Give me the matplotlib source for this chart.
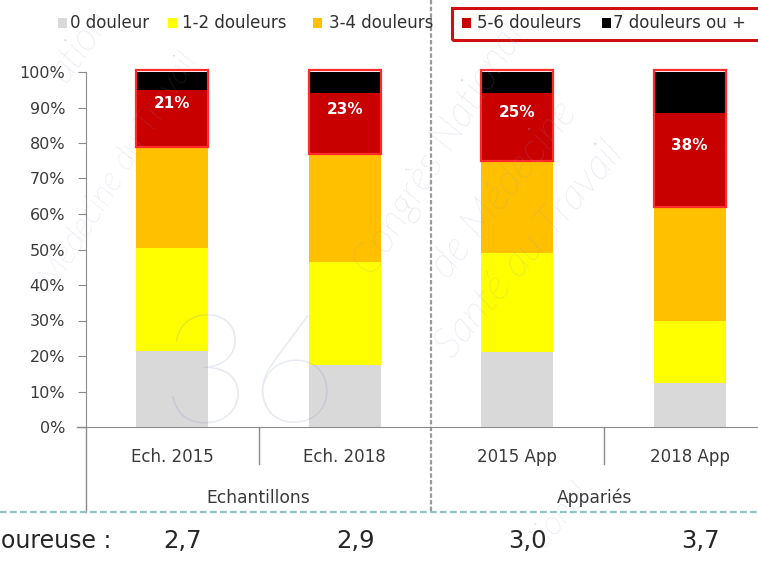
import numpy as np
import matplotlib
matplotlib.use("Agg")
import matplotlib.pyplot as plt
from matplotlib.patches import Rectangle
from matplotlib.lines import Line2D
import matplotlib.transforms as mtransforms

plt.rcParams['font.family'] = ['DejaVu Sans']

# data (percent of each group)
categories = ["Ech. 2015", "Ech. 2018", "2015 App", "2018 App"]
groups = ["Echantillons", "Appariés"]
series_names = ["0 douleur", "1-2 douleurs", "3-4 douleurs", "5-6 douleurs", "7 douleurs ou +"]
pct_0 = [21.5, 17.5, 21.0, 12.5]
pct_12 = [29.0, 29.0, 28.0, 17.5]
pct_34 = [28.5, 30.5, 26.0, 32.0]
pct_56 = [16.0, 17.0, 19.0, 26.5]
pct_7 = [5.0, 6.0, 6.0, 11.5]
top_labels = ["21%", "23%", "25%", "38%"]
mean_scores = ["2,7", "2,9", "3,0", "3,7"]
colors = ["#d9d9d9", "#ffff00", "#ffc000", "#c80000", "#000000"]

W, H = 758, 563
fig = plt.figure(figsize=(W / 100, H / 100), dpi=100)
ax = fig.add_axes([86 / W, 1 - 427 / H, 4 * 172.5 / W, 355 / H])

x = np.arange(len(categories))
series = [pct_0, pct_12, pct_34, pct_56, pct_7]
bottom = np.zeros(len(categories))
for vals, col, name in zip(series, colors, series_names):
    ax.bar(x, vals, 0.42, bottom=bottom, color=col, label=name, zorder=2)
    bottom += np.array(vals)

# red highlight around the 5+ part + labels
for i in range(len(categories)):
    base = pct_0[i] + pct_12[i] + pct_34[i]
    ax.add_patch(Rectangle((x[i] - 0.21, base), 0.42, 100 - base + 0.6, fill=False,
                           edgecolor="#ff2a2a", lw=1.6, zorder=3, clip_on=False))
    ax.text(x[i], base + pct_56[i] / 2 + 4, top_labels[i], ha="center", va="center",
            color="white", fontsize=11, fontweight="bold", zorder=4)

ax.set_xlim(-0.5, 3.5)
ax.set_ylim(0, 100)
ax.set_yticks(np.arange(0, 101, 10))
ax.set_yticklabels([f"{v}%" for v in range(0, 101, 10)], fontsize=11.5, color="#3a3a3a")
ax.set_xticks([])
for s in ["top", "right"]:
    ax.spines[s].set_visible(False)
ax.spines["left"].set_color("#8c8c8c")
ax.spines["bottom"].set_color("#8c8c8c")
ax.tick_params(axis="y", length=6, color="#8c8c8c", pad=9)

trans = mtransforms.blended_transform_factory(ax.transData, ax.transAxes)
# category structure lines under the axis
ax.plot([-0.5, -0.5], [0, -0.239], transform=trans, clip_on=False, color="#8c8c8c", lw=1)
for xv in [0.5, 2.5]:
    ax.plot([xv, xv], [0, -0.105], transform=trans, clip_on=False, color="#8c8c8c", lw=1)
ax.plot([1.5, 1.5], [1.203, -0.239], transform=trans, clip_on=False, color="#9a9a9a",
        lw=1.6, ls=(0, (2, 1)))
ax.plot([-0.55, -0.5], [0, 0], transform=trans, clip_on=False, color="#8c8c8c", lw=1)

for i, c in enumerate(categories):
    ax.text(x[i], -0.085, c, transform=trans, ha="center", va="center", fontsize=12,
            color="#3a3a3a")
ax.text(0.5, -0.2, groups[0], transform=trans, ha="center", va="center", fontsize=12.3,
        color="#3a3a3a")
ax.text(2.45, -0.2, groups[1], transform=trans, ha="center", va="center", fontsize=12.3,
        color="#3a3a3a")

# bottom row: mean score
fig.add_artist(Line2D([0, 1], [1 - 512 / H] * 2, color="#8fc4c0", lw=1.6, ls=(0, (3, 1.5))))
fig.text(1 / W, 1 - 541 / H, "oureuse :", ha="left", va="center", fontsize=17, color="#262626")
for i, m in enumerate(mean_scores):
    ax.text(x[i] + 0.06, -0.321, m, transform=trans, ha="center", va="center", fontsize=17.5,
            color="#262626")

# legend, laid out like the original (patch x, text x in pixels)
leg_patch_x = [58, 168, 313, 462, 602]
leg_text_x = [70, 182, 329, 477, 613]
leg_y = 23
for px, tx, col, name in zip(leg_patch_x, leg_text_x, colors, series_names):
    fig.add_artist(Rectangle((px / W, 1 - (leg_y + 5) / H), 9 / W, 10 / H,
                             transform=fig.transFigure, color=col, lw=0))
    fig.text(tx / W, 1 - leg_y / H, name, ha="left", va="center", fontsize=12,
             color="#303030")
fig.add_artist(Rectangle((452 / W, 1 - 40 / H), 320 / W, 32 / H, transform=fig.transFigure,
                         fill=False, edgecolor="#d01010", lw=2.2))

# watermark
wm = dict(color="#8f9cc4", alpha=0.38, fontstyle="italic", zorder=5, family="Lato",
          fontweight="light")
fig.text(440 / W, 1 - 150 / H, "Congrès National", rotation=58, ha="center", va="center",
         fontsize=30, **wm)
fig.text(505 / W, 1 - 190 / H, "de Médecine", rotation=52, ha="center", va="center",
         fontsize=30, **wm)
fig.text(530 / W, 1 - 250 / H, "Santé au Travail", rotation=50, ha="center", va="center",
         fontsize=30, **wm)
fig.text(80 / W, 1 - 45 / H, "ation", rotation=55, ha="center", va="center", fontsize=28, **wm)
fig.text(120 / W, 1 - 170 / H, "Médecine du Travail", rotation=58, ha="center", va="center",
         fontsize=24, **wm)
fig.text(560 / W, 1 - 515 / H, "tional", rotation=50, ha="center", va="center", fontsize=24, **wm)
fig.text(250 / W, 1 - 380 / H, "36", rotation=0, ha="center", va="center", fontsize=110,
         color="#6f80b4", alpha=0.16, zorder=5, family="Lato", fontweight="light")

fig.savefig("out.png", dpi=100)
